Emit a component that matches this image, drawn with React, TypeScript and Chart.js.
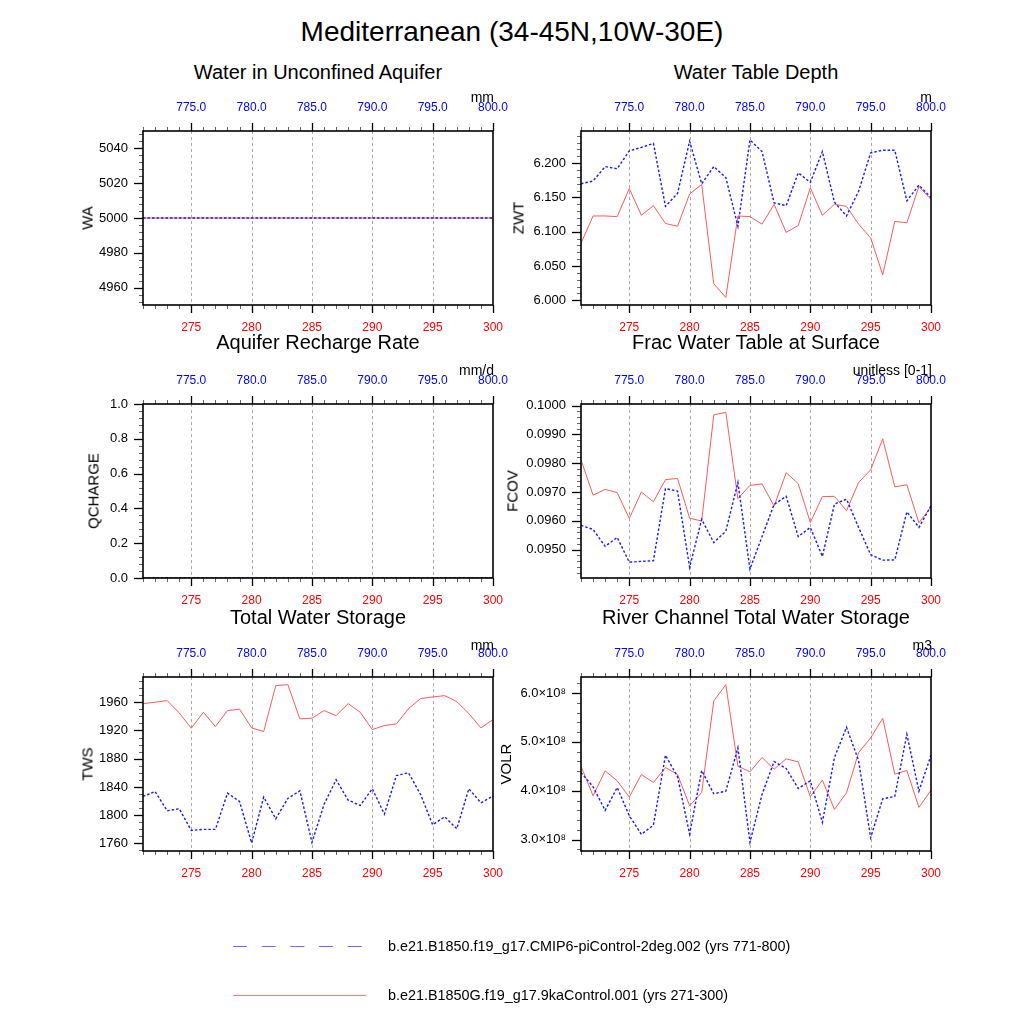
import React, { useEffect, useRef } from 'react';
import { Chart, registerables } from 'chart.js';
Chart.register(...registerables);

// ---------- data ----------
const yearsA = [271, 272, 273, 274, 275, 276, 277, 278, 279, 280, 281, 282, 283, 284, 285, 286, 287, 288, 289, 290, 291, 292, 293, 294, 295, 296, 297, 298, 299, 300];
const yearsB = [771, 772, 773, 774, 775, 776, 777, 778, 779, 780, 781, 782, 783, 784, 785, 786, 787, 788, 789, 790, 791, 792, 793, 794, 795, 796, 797, 798, 799, 800];
const xTicksA = [275, 280, 285, 290, 295, 300];
const xTicksB = [775, 780, 785, 790, 795, 800];

const WA_A = [5000, 5000, 5000, 5000, 5000, 5000, 5000, 5000, 5000, 5000, 5000, 5000, 5000, 5000, 5000, 5000, 5000, 5000, 5000, 5000, 5000, 5000, 5000, 5000, 5000, 5000, 5000, 5000, 5000, 5000];
const WA_B = [5000, 5000, 5000, 5000, 5000, 5000, 5000, 5000, 5000, 5000, 5000, 5000, 5000, 5000, 5000, 5000, 5000, 5000, 5000, 5000, 5000, 5000, 5000, 5000, 5000, 5000, 5000, 5000, 5000, 5000];
const WA_TICKS = [4960, 4980, 5000, 5020, 5040];

const ZWT_A = [6.083, 6.123, 6.123, 6.122, 6.163, 6.124, 6.138, 6.112, 6.108, 6.155, 6.169, 6.024, 6.004, 6.123, 6.122, 6.111, 6.140, 6.099, 6.109, 6.164, 6.124, 6.140, 6.137, 6.111, 6.091, 6.037, 6.115, 6.113, 6.166, 6.147];
const ZWT_B = [6.170, 6.174, 6.195, 6.192, 6.218, 6.223, 6.229, 6.137, 6.156, 6.232, 6.170, 6.195, 6.179, 6.108, 6.234, 6.217, 6.142, 6.138, 6.186, 6.172, 6.217, 6.143, 6.123, 6.159, 6.215, 6.219, 6.219, 6.145, 6.168, 6.150];
const ZWT_TICKS = [6.0, 6.05, 6.1, 6.15, 6.2];

const QCHARGE_A = [0, 0, 0, 0, 0, 0, 0, 0, 0, 0, 0, 0, 0, 0, 0, 0, 0, 0, 0, 0, 0, 0, 0, 0, 0, 0, 0, 0, 0, 0];
const QCHARGE_B = [0, 0, 0, 0, 0, 0, 0, 0, 0, 0, 0, 0, 0, 0, 0, 0, 0, 0, 0, 0, 0, 0, 0, 0, 0, 0, 0, 0, 0, 0];
const QCHARGE_TICKS = [0, 0.2, 0.4, 0.6, 0.8, 1.0];

const FCOV_A = [0.09812, 0.09689, 0.09709, 0.09698, 0.09608, 0.09700, 0.09666, 0.09743, 0.09747, 0.09609, 0.09599, 0.09968, 0.09977, 0.09677, 0.09723, 0.09728, 0.09651, 0.09767, 0.09729, 0.09594, 0.09684, 0.09685, 0.09635, 0.09733, 0.09777, 0.09885, 0.09718, 0.09725, 0.09593, 0.09648];
const FCOV_B = [0.09584, 0.09570, 0.09511, 0.09542, 0.09456, 0.09459, 0.09461, 0.09712, 0.09703, 0.09438, 0.09605, 0.09524, 0.09564, 0.09733, 0.09432, 0.09545, 0.09657, 0.09685, 0.09545, 0.09577, 0.09476, 0.09658, 0.09675, 0.09577, 0.09482, 0.09463, 0.09464, 0.09631, 0.09577, 0.09652];
const FCOV_TICKS = [0.095, 0.096, 0.097, 0.098, 0.099, 0.1];

const TWS_A = [1958.1, 1960.0, 1962.4, 1944.9, 1923.2, 1945.8, 1925.6, 1948.2, 1950.1, 1923.7, 1918.5, 1983.6, 1985.0, 1936.4, 1937.4, 1948.2, 1941.1, 1958.1, 1945.8, 1921.3, 1927.0, 1929.3, 1951.0, 1965.2, 1967.5, 1969.4, 1960.9, 1944.0, 1923.7, 1935.5];
const TWS_B = [1826.5, 1833.6, 1806.2, 1809.1, 1778.4, 1779.8, 1779.8, 1831.2, 1819.4, 1760.5, 1825.6, 1794.9, 1823.7, 1834.5, 1761.4, 1815.2, 1850.1, 1821.3, 1813.8, 1837.4, 1801.5, 1856.2, 1860.0, 1829.3, 1786.4, 1797.7, 1780.8, 1837.4, 1817.5, 1827.0];
const TWS_TICKS = [1760, 1800, 1840, 1880, 1920, 1960];

const VOLR_A = [4.503e8, 3.898e8, 4.408e8, 4.204e8, 3.871e8, 4.333e8, 4.170e8, 4.476e8, 4.333e8, 3.694e8, 3.966e8, 5.837e8, 6.170e8, 4.503e8, 4.388e8, 4.680e8, 4.442e8, 4.653e8, 4.592e8, 3.878e8, 4.218e8, 3.619e8, 3.959e8, 4.782e8, 5.082e8, 5.483e8, 4.340e8, 4.415e8, 3.660e8, 4.014e8];
const VOLR_B = [4.374e8, 4.082e8, 3.599e8, 4.068e8, 3.490e8, 3.109e8, 3.299e8, 4.728e8, 4.286e8, 3.116e8, 4.415e8, 3.939e8, 3.993e8, 4.878e8, 2.946e8, 3.925e8, 4.599e8, 4.456e8, 4.048e8, 4.204e8, 3.354e8, 4.680e8, 5.299e8, 4.619e8, 3.041e8, 3.837e8, 3.884e8, 5.156e8, 3.993e8, 4.728e8];
const VOLR_TICKS = [3e8, 4e8, 5e8, 6e8];

const MAIN_TITLE = 'Mediterranean (34-45N,10W-30E)';
const LEGEND_B = 'b.e21.B1850.f19_g17.CMIP6-piControl-2deg.002 (yrs 771-800)';
const LEGEND_A = 'b.e21.B1850G.f19_g17.9kaControl.001 (yrs 271-300)';

// ---------- layout ----------
const FONT = '"Liberation Sans", Arial, Helvetica, sans-serif';
const COL_LEFT = [143, 581];
const ROW_TOP = [131, 404, 677];
const PW = 350;
const PH = 174;
const TITLE_Y = [72, 342, 617];
const UNIT_Y = [97, 370, 645];
const RED = '#ff5a5a';
const BLUE = '#1a1aff';

type PanelDef = {
  title: string; ytitle: string; unit: string; col: number; row: number;
  yMin: number; yMax: number; yTicks: number[]; yMinor: number;
  fmt: (v: number) => string; red: number[]; blue: number[]; ytitleX: number;
};

const panels: PanelDef[] = [
  { title: 'Water in Unconfined Aquifer', ytitle: 'WA', unit: 'mm', col: 0, row: 0, yMin: 4950, yMax: 5050, yTicks: WA_TICKS, yMinor: 4, fmt: v => String(Math.round(v)), red: WA_A, blue: WA_B, ytitleX: 87 },
  { title: 'Water Table Depth', ytitle: 'ZWT', unit: 'm', col: 1, row: 0, yMin: 5.993, yMax: 6.247, yTicks: ZWT_TICKS, yMinor: 0.01, fmt: v => v.toFixed(3), red: ZWT_A, blue: ZWT_B, ytitleX: 518 },
  { title: 'Aquifer Recharge Rate', ytitle: 'QCHARGE', unit: 'mm/d', col: 0, row: 1, yMin: 0, yMax: 1, yTicks: QCHARGE_TICKS, yMinor: 0.04, fmt: v => v.toFixed(1), red: QCHARGE_A, blue: QCHARGE_B, ytitleX: 93 },
  { title: 'Frac Water Table at Surface', ytitle: 'FCOV', unit: 'unitless [0-1]', col: 1, row: 1, yMin: 0.09401, yMax: 0.10006, yTicks: FCOV_TICKS, yMinor: 0.0002, fmt: v => v.toFixed(4), red: FCOV_A, blue: FCOV_B, ytitleX: 512 },
  { title: 'Total Water Storage', ytitle: 'TWS', unit: 'mm', col: 0, row: 2, yMin: 1749.2, yMax: 1995.8, yTicks: TWS_TICKS, yMinor: 10, fmt: v => String(Math.round(v)), red: TWS_A, blue: TWS_B, ytitleX: 87 },
  { title: 'River Channel Total Water Storage', ytitle: 'VOLR', unit: 'm3', col: 1, row: 2, yMin: 2.769e8, yMax: 6.327e8, yTicks: VOLR_TICKS, yMinor: 0.2e8, fmt: v => (v / 1e8).toFixed(1) + '\u00d710\u2078', red: VOLR_A, blue: VOLR_B, ytitleX: 505 },
];

const Y_W = 80, TOP_H = 40, BOT_H = 35, RIGHT_PAD = 40;

function minorValues(min: number, max: number, step: number): number[] {
  const out: number[] = [];
  const k0 = Math.ceil(min / step - 1e-6);
  const k1 = Math.floor(max / step + 1e-6);
  for (let k = k0; k <= k1; k++) out.push(k * step);
  return out;
}

const decoPlugin = {
  id: 'deco',
  beforeDatasetsDraw(chart: any) {
    const { ctx, chartArea: a, scales } = chart;
    ctx.save();
    ctx.strokeStyle = '#a9a9a9';
    ctx.lineWidth = 1;
    ctx.setLineDash([3, 3]);
    for (const v of xTicksA) {
      if (v >= 300) continue;
      const px = Math.round(scales.x.getPixelForValue(v)) + 0.5;
      ctx.beginPath();
      ctx.moveTo(px, a.top);
      ctx.lineTo(px, a.bottom);
      ctx.stroke();
    }
    ctx.restore();
  },
  afterDraw(chart: any, _args: any, opts: any) {
    const { ctx, chartArea: a, scales } = chart;
    ctx.save();
    ctx.setLineDash([]);
    const line = (x1: number, y1: number, x2: number, y2: number) => {
      ctx.beginPath(); ctx.moveTo(x1, y1); ctx.lineTo(x2, y2); ctx.stroke();
    };
    ctx.lineWidth = 1;
    ctx.strokeStyle = '#666';
    for (const v of yearsA) {
      const px = Math.round(scales.x.getPixelForValue(v)) + 0.5;
      line(px, a.bottom, px, a.bottom + 4);
    }
    for (const v of yearsB) {
      const px = Math.round(scales.x2.getPixelForValue(v)) + 0.5;
      line(px, a.top, px, a.top - 4);
    }
    for (const v of minorValues(opts.yMin, opts.yMax, opts.yMinor)) {
      const py = Math.round(scales.y.getPixelForValue(v)) + 0.5;
      line(a.left, py, a.left - 4, py);
    }
    ctx.strokeStyle = '#000';
    ctx.lineWidth = 1.3;
    for (const v of xTicksA) {
      const px = Math.round(scales.x.getPixelForValue(v)) + 0.5;
      line(px, a.bottom, px, a.bottom + 8);
    }
    for (const v of xTicksB) {
      const px = Math.round(scales.x2.getPixelForValue(v)) + 0.5;
      line(px, a.top, px, a.top - 8);
    }
    for (const v of opts.yTicks) {
      const py = Math.round(scales.y.getPixelForValue(v)) + 0.5;
      line(a.left, py, a.left - 9, py);
    }
    ctx.lineWidth = 1.6;
    ctx.strokeRect(a.left, a.top, a.right - a.left, a.bottom - a.top);
    ctx.restore();
  },
};

function Panel({ p }: { p: PanelDef }) {
  const ref = useRef<HTMLCanvasElement>(null);
  const left = COL_LEFT[p.col];
  const top = ROW_TOP[p.row];
  const cw = Y_W + PW + RIGHT_PAD;
  const ch = TOP_H + PH + BOT_H;

  useEffect(() => {
    if (!ref.current) return;
    const chart = new Chart(ref.current, {
      type: 'line',
      data: {
        datasets: [
          {
            label: 'B',
            data: p.blue.map((y, i) => ({ x: yearsB[i], y })),
            xAxisID: 'x2',
            yAxisID: 'y',
            borderColor: BLUE,
            borderWidth: 1.4,
            borderDash: [2.5, 2],
            pointRadius: 0,
            tension: 0,
            fill: false,
          },
          {
            label: 'A',
            data: p.red.map((y, i) => ({ x: yearsA[i], y })),
            xAxisID: 'x',
            yAxisID: 'y',
            borderColor: RED,
            borderWidth: 1,
            pointRadius: 0,
            tension: 0,
            fill: false,
          },
        ],
      },
      options: {
        responsive: false,
        animation: false,
        events: [],
        layout: { padding: { left: 0, top: 0, bottom: 0, right: RIGHT_PAD }, autoPadding: false },
        plugins: {
          legend: { display: false },
          tooltip: { enabled: false },
          deco: { yMin: p.yMin, yMax: p.yMax, yMinor: p.yMinor, yTicks: p.yTicks },
        } as any,
        scales: {
          x: {
            type: 'linear', position: 'bottom', min: 271, max: 300,
            grid: { display: false, drawTicks: false },
            border: { display: false },
            afterBuildTicks: (s: any) => { s.ticks = xTicksA.map(v => ({ value: v })); },
            afterFit: (s: any) => { s.height = BOT_H; },
            ticks: { color: '#ff0000', font: { family: FONT, size: 12 }, padding: 15, maxRotation: 0, autoSkip: false, callback: (v: any) => String(v) },
          },
          x2: {
            type: 'linear', position: 'top', min: 771, max: 800,
            grid: { display: false, drawTicks: false },
            border: { display: false },
            afterBuildTicks: (s: any) => { s.ticks = xTicksB.map(v => ({ value: v })); },
            afterFit: (s: any) => { s.height = TOP_H; },
            ticks: { color: '#0000ff', font: { family: FONT, size: 12 }, padding: 16, maxRotation: 0, autoSkip: false, callback: (v: any) => Number(v).toFixed(1) },
          },
          y: {
            type: 'linear', position: 'left', min: p.yMin, max: p.yMax,
            grid: { display: false, drawTicks: false },
            border: { display: false },
            afterBuildTicks: (s: any) => { s.ticks = p.yTicks.map(v => ({ value: v })); },
            afterFit: (s: any) => { s.width = Y_W; },
            ticks: { color: '#000', font: { family: FONT, size: 13 }, padding: 15, autoSkip: false, callback: (v: any) => p.fmt(Number(v)) },
          },
        },
      } as any,
      plugins: [decoPlugin as any],
    });
    return () => chart.destroy();
  }, []);

  const centerX = left + PW / 2;
  return (
    <>
      <canvas
        ref={ref}
        width={cw}
        height={ch}
        style={{ position: 'absolute', left: left - Y_W, top: top - TOP_H, width: cw, height: ch }}
      />
      <div style={{ position: 'absolute', left: centerX, top: TITLE_Y[p.row], transform: 'translate(-50%,-50%)', fontSize: 20, whiteSpace: 'nowrap', lineHeight: 1 }}>{p.title}</div>
      <div style={{ position: 'absolute', right: 1024 - (left + PW) - 1, top: UNIT_Y[p.row], transform: 'translateY(-50%)', fontSize: 14, whiteSpace: 'nowrap', lineHeight: 1 }}>{p.unit}</div>
      <div style={{ position: 'absolute', left: p.ytitleX, top: top + PH / 2, transform: 'translate(-50%,-50%) rotate(-90deg)', fontSize: 15, whiteSpace: 'nowrap', lineHeight: 1 }}>{p.ytitle}</div>
    </>
  );
}

export default function App() {
  return (
    <div style={{ position: 'absolute', left: 0, top: 0, width: 1024, height: 1024, background: '#fff', fontFamily: FONT, color: '#000', overflow: 'hidden' }}>
      <div style={{ position: 'absolute', left: 512, top: 32, transform: 'translate(-50%,-50%)', fontSize: 28, whiteSpace: 'nowrap', lineHeight: 1 }}>{MAIN_TITLE}</div>
      {panels.map((p, i) => <Panel key={i} p={p} />)}
      <svg style={{ position: 'absolute', left: 0, top: 0 }} width={1024} height={1024}>
        <line x1={233} y1={946.5} x2={366} y2={946.5} stroke="#6a6aff" strokeWidth={1} strokeDasharray="14 14.7" />
        <line x1={233} y1={995.5} x2={366} y2={995.5} stroke="#ff7a7a" strokeWidth={1} />
      </svg>
      <div style={{ position: 'absolute', left: 388, top: 946, transform: 'translateY(-50%)', fontSize: 14.4, whiteSpace: 'nowrap', lineHeight: 1 }}>{LEGEND_B}</div>
      <div style={{ position: 'absolute', left: 388, top: 995, transform: 'translateY(-50%)', fontSize: 14.4, whiteSpace: 'nowrap', lineHeight: 1 }}>{LEGEND_A}</div>
    </div>
  );
}
